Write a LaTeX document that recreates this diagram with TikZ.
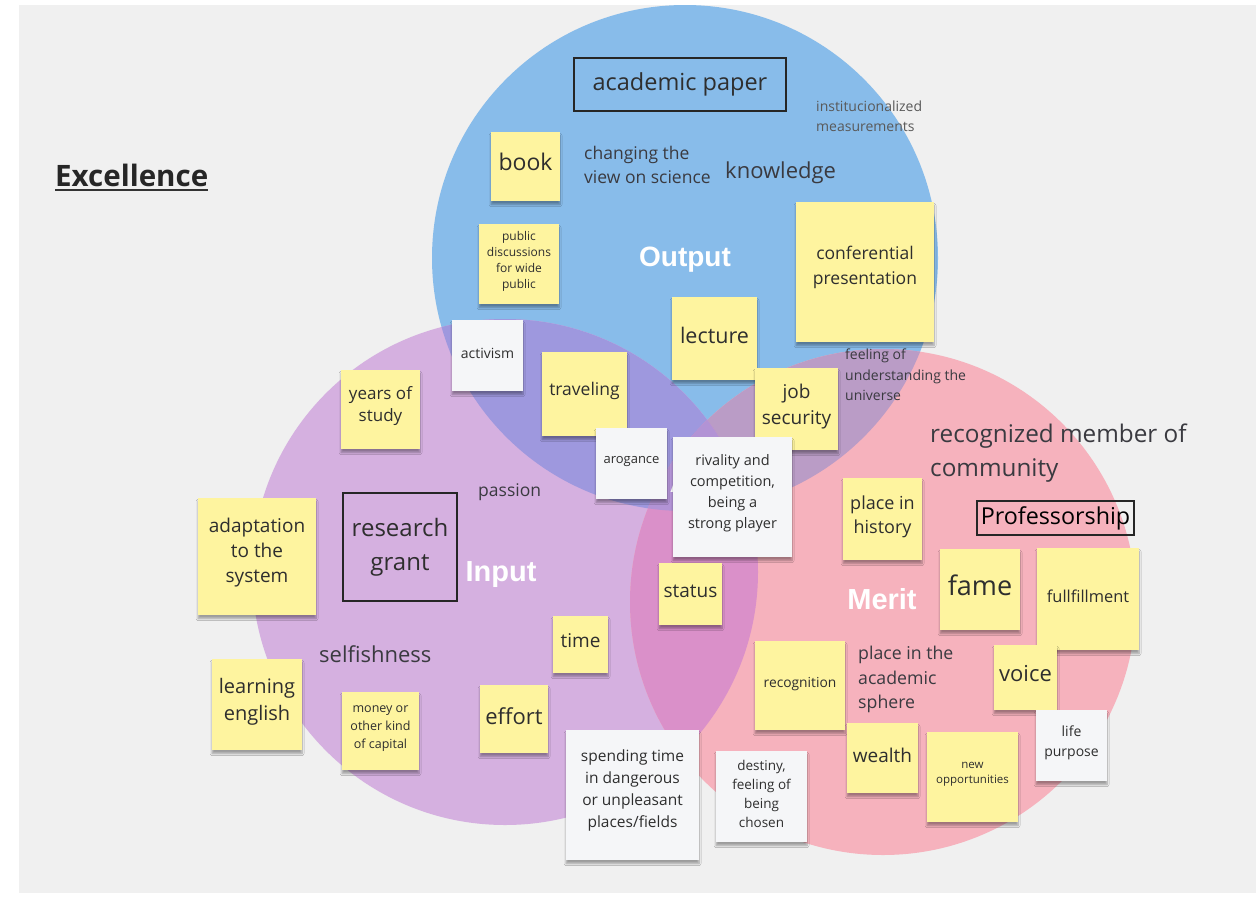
\documentclass[tikz,border=0pt]{standalone}
\usepackage{fontspec}
\setmainfont{Open Sans}
\newfontfamily\titlefont{Liberation Sans}
\usetikzlibrary{shadows.blur}
\definecolor{bg}{HTML}{F0F0F0}
\definecolor{cblue}{HTML}{88BCEA}
\definecolor{cpurple}{HTML}{D5B0E0}
\definecolor{cpink}{HTML}{F6B2BD}
\definecolor{cbp}{HTML}{9E98DE}
\definecolor{cbk}{HTML}{BA9CC6}
\definecolor{cpk}{HTML}{DA90C9}
\definecolor{ctri}{HTML}{B293D5}
\definecolor{yel}{HTML}{FEF49F}
\definecolor{wht}{HTML}{F5F6F8}
\definecolor{ink}{HTML}{2E2E2E}
\definecolor{freeink}{HTML}{3A3A40}
\newcommand{\fs}[2]{\fontsize{#1}{#2}\selectfont}
\tikzset{
  notebase/.style={rectangle, inner sep=0pt, draw=none,
    blur shadow={shadow xshift=0pt, shadow yshift=-3.5pt,
      shadow opacity=35, shadow blur radius=2pt, shadow blur steps=6}},
  ynote/.style={notebase, fill=yel},
  wnote/.style={notebase, fill=wht},
  notetext/.style={inner sep=0pt, align=center, text=ink},
  freetext/.style={inner sep=0pt, align=left, anchor=west, text=freeink},
  framebox/.style={rectangle, draw=black!85, line width=2.6pt, inner sep=0pt},
  setlabel/.style={inner sep=0pt, text=white, font=\titlefont\bfseries\fs{28}{30}},
}
% #1 style, #2 name, #3 x1, #4 y1, #5 x2, #6 y2, #7 text y, #8 font, #9 text
\newcommand{\stick}[9]{%
  \node[#1, minimum width={#5-#3}, minimum height={#6-#4}] (#2) at ({(#3+#5)/2},{(#4+#6)/2}) {};
  \node[notetext, font=#8] (#2-t) at ({(#3+#5)/2},#7) {#9};
}
\begin{document}
\begin{tikzpicture}[x=1pt,y=-1pt]
\useasboundingbox (0,0) rectangle (1256,897);
\fill[white] (0,0) rectangle (1256,897);
\fill[bg] (19,5) rectangle (1256,893);

\coordinate (Oc) at (685,258);
\coordinate (Ic) at (505,572);
\coordinate (Mc) at (883,602);
\def\R{253}

\begin{scope}
  \clip (19,5) rectangle (1256,893);
  \fill[cblue] (Oc) circle (\R);
  \fill[cpurple] (Ic) circle (\R);
  \fill[cpink] (Mc) circle (\R);
  \begin{scope}\clip (Oc) circle (\R); \fill[cbp] (Ic) circle (\R);\end{scope}
  \begin{scope}\clip (Oc) circle (\R); \fill[cbk] (Mc) circle (\R);\end{scope}
  \begin{scope}\clip (Ic) circle (\R); \fill[cpk] (Mc) circle (\R);\end{scope}
  \begin{scope}\clip (Oc) circle (\R); \clip (Ic) circle (\R); \fill[ctri] (Mc) circle (\R);\end{scope}
\end{scope}

% set labels
\node[setlabel] (output) at (685,260) {Output};
\node[setlabel, font=\titlefont\bfseries\fs{29}{30}] (input) at (501,575) {Input};
\node[setlabel, font=\titlefont\bfseries\fs{29}{30}] (merit) at (882,599) {Merit};
\node[setlabel] (centre) at (680,483) {A};

% title
\node[inner sep=0pt, anchor=west, text=black!85, font=\bfseries\fs{29.5}{32}] (excellence) at (55,175) {Excellence};
\draw[black!80, line width=2pt] ([yshift=-3.5pt]excellence.base west) -- ([yshift=-3.5pt]excellence.base east);

% framed items
\node[framebox, minimum width=212, minimum height=53, font=\fs{23.5}{26}, text=ink] (paper) at (680,84.5) {academic paper};
\node[framebox, minimum width=114, minimum height=108, align=center, font=\fs{24}{34}, text=ink] (grant) at (400,547) {research\\grant};
\node[framebox, minimum width=157, minimum height=34, line width=2.2pt, font=\fs{23.3}{24}, text=black] (prof) at (1055.5,518) {Professorship};

% free texts
\node[freetext, text=black!65, font=\fs{14}{20}] (inst) at (816,116) {institucionalized\\measurements};
\node[freetext, font=\fs{17.5}{24}] (changing) at (584,165) {changing the\\view on science};
\node[freetext, font=\fs{22}{24}] (knowledge) at (725,173) {knowledge};
\node[freetext, font=\fs{14}{20.5}] (feeling) at (845,375) {feeling of\\understanding the\\universe};
\node[freetext, font=\fs{24.3}{34}] (member) at (930,453) {recognized member of\\community};
\node[freetext, font=\fs{17.5}{18}] (passion) at (478,492) {passion};
\node[freetext, font=\fs{22}{22}] (selfish) at (319,654) {selfishness};
\node[freetext, font=\fs{17.7}{24.5}] (sphere) at (858,679.5) {place in the\\academic\\sphere};

% yellow notes
\stick{ynote}{book}{491}{132}{560}{201}{162}{\fs{23}{26}}{book}
\stick{ynote}{pubdisc}{479}{224}{559}{304}{261}{\fs{12}{16}}{public\\discussions\\for wide\\public}
\stick{ynote}{confpres}{796}{202}{934}{342}{267}{\fs{17.5}{25}}{conferential\\presentation}
\stick{ynote}{lecture}{672}{297}{757}{380}{335}{\fs{21.5}{24}}{lecture}
\stick{ynote}{traveling}{542}{352}{627}{436}{391}{\fs{17.5}{20}}{traveling}
\stick{ynote}{years}{341}{370}{420}{449}{406}{\fs{17}{22}}{years of\\study}
\stick{ynote}{jobsec}{755}{368}{838}{450}{407}{\fs{19}{26}}{job\\security}
\stick{ynote}{adapt}{198}{498}{316}{615}{553}{\fs{19}{25}}{adaptation\\to the\\system}
\stick{ynote}{placehist}{843}{478}{922}{560}{517}{\fs{18}{24}}{place in\\history}
\stick{ynote}{status}{659}{563}{722}{625}{591}{\fs{19}{20}}{status}
\stick{ynote}{fame}{940}{549}{1020}{630}{585}{\fs{27}{28}}{fame}
\stick{ynote}{fullfill}{1037}{548}{1139}{650}{596}{\fs{16.4}{18}}{fullfillment}
\stick{ynote}{time}{553}{616}{608}{673}{641}{\fs{19}{20}}{time}
\stick{ynote}{recog}{755}{641}{845}{730}{684}{\fs{13.8}{14}}{recognition}
\stick{ynote}{voice}{994}{645}{1057}{710}{674}{\fs{22}{24}}{voice}
\stick{ynote}{learning}{212}{659}{302}{750}{702}{\fs{20}{27}}{learning\\english}
\stick{ynote}{money}{342}{692}{419}{770}{729}{\fs{12.5}{18}}{money or\\other kind\\of capital}
\stick{ynote}{effort}{480}{685}{548}{753}{716}{\fs{22}{24}}{effort}
\stick{ynote}{wealth}{847}{723}{918}{793}{755}{\fs{19}{20}}{wealth}
\stick{ynote}{newopp}{927}{732}{1018}{822}{774}{\fs{11.5}{15}}{new\\opportunities}

% white notes
\stick{wnote}{activism}{452}{320}{523}{391}{353}{\fs{14}{15}}{activism}
\stick{wnote}{arogance}{596}{428}{667}{499}{462}{\fs{13}{14}}{arogance}
\stick{wnote}{rivality}{673}{437}{792}{557}{493.5}{\fs{14.5}{21}}{rivality and\\competition,\\being a\\strong player}
\stick{wnote}{purpose}{1036}{710}{1107}{781}{743}{\fs{14}{20}}{life\\purpose}
\stick{wnote}{spending}{566}{730}{699}{860}{790}{\fs{15.5}{22}}{spending time\\in dangerous\\or unpleasant\\places/fields}
\stick{wnote}{destiny}{716}{751}{807}{842}{794}{\fs{13.5}{19}}{destiny,\\feeling of\\being\\chosen}
\end{tikzpicture}
\end{document}
